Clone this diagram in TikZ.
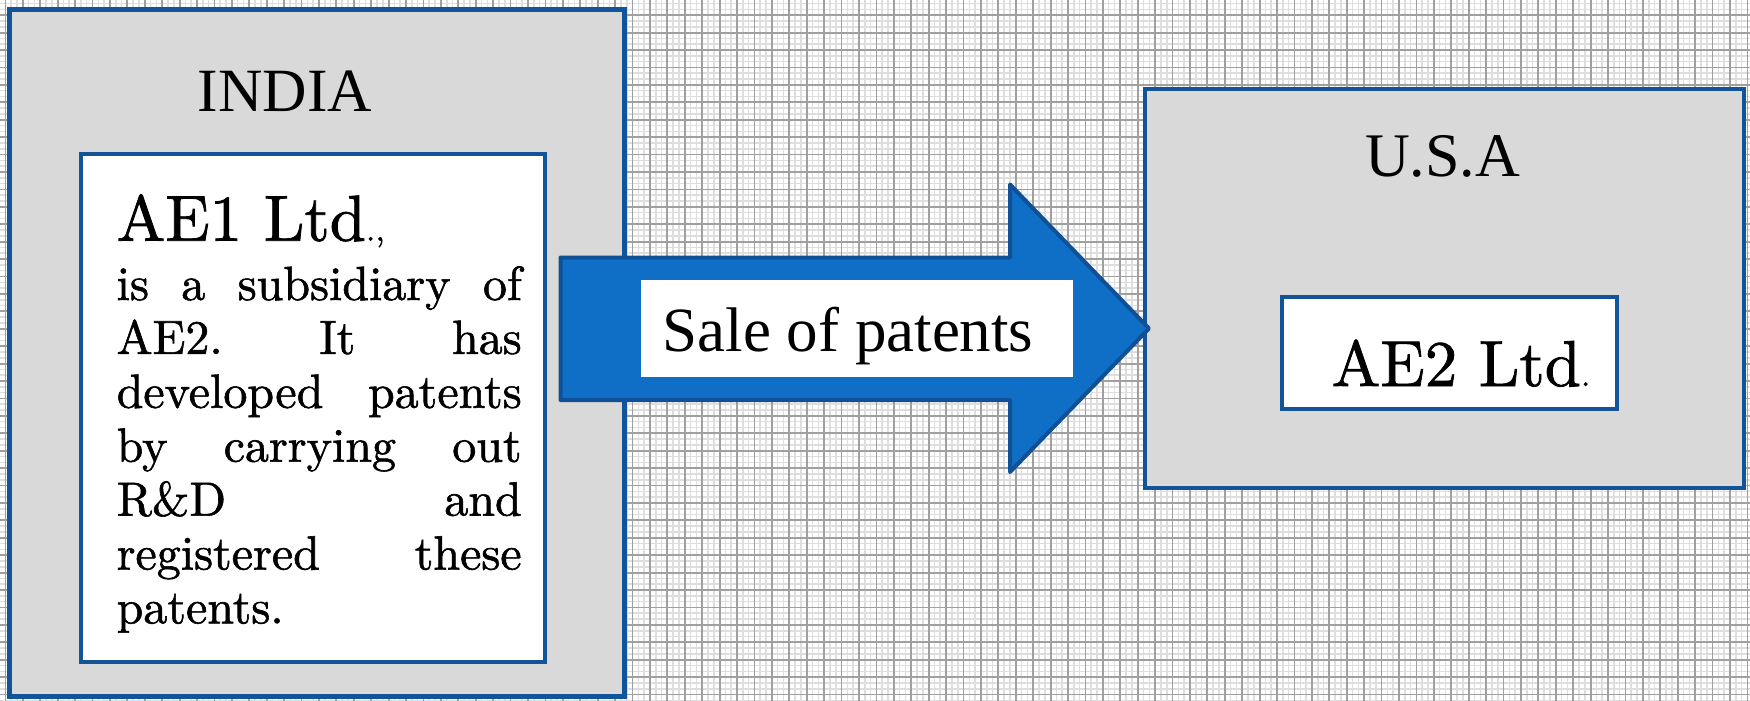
\documentclass[tikz,border=0pt]{standalone}
\usepackage{fontspec}
\newfontfamily\timesf{Liberation Serif}
\newfontfamily\lmf[FakeBold=1.2]{lmroman10-regular.otf}
\definecolor{boxgray}{HTML}{D9D9D9}
\definecolor{borderblue}{RGB}{17,84,153}
\definecolor{arrowblue}{RGB}{15,111,198}
\definecolor{arrowedge}{RGB}{16,80,150}
\definecolor{gridmajor}{HTML}{A0A0A0}
\definecolor{gridminor}{HTML}{DEDEDE}
\tikzset{
  majorline/.style={draw=gridmajor, line width=1.8pt},
  minorline/.style={draw=gridminor, line width=1.6pt},
  countrybox/.style={draw=borderblue, fill=boxgray, line width=4.5pt, inner sep=0, rectangle},
  firmbox/.style={draw=borderblue, fill=white, line width=4pt, inner sep=0, rectangle},
  txt/.style={inner sep=0, outer sep=0},
}
\begin{document}
\begin{tikzpicture}[x=1pt,y=-1pt]
\useasboundingbox (0,0) rectangle (1750,701);
% background grid
\fill[white] (0,0) rectangle (1750,701);
\foreach \i in {-1,...,101} {
  \draw[minorline] ({5.4+17.42*\i+5.807},0) -- ++(0,701);
  \draw[minorline] ({5.4+17.42*\i+11.613},0) -- ++(0,701);
}
\foreach \i in {-1,...,41} {
  \draw[minorline] (0,{15.2+17.42*\i+5.807}) -- ++(1750,0);
  \draw[minorline] (0,{15.2+17.42*\i+11.613}) -- ++(1750,0);
}
\foreach \i in {0,...,101} {
  \draw[majorline] ({5.4+17.42*\i},0) -- ++(0,701);
}
\foreach \i in {-1,...,41} {
  \draw[majorline] (0,{15.2+17.42*\i}) -- ++(1750,0);
}
% India
\node[countrybox, minimum width=615pt, minimum height=687pt] (india) at (317,353) {};
\node[txt, anchor=base] (indialbl) at (285,111.7) {\fontsize{61.5}{70}\selectfont\timesf INDIA};
\node[firmbox, minimum width=464.5pt, minimum height=508.5pt] (ae1) at (312.75,407.75) {};
\node[txt, anchor=base west] (ae1name) at (116.7,240.7) {\lmf\fontsize{65}{70}\selectfont AE1 Ltd{\fontsize{34}{40}\selectfont .,}};
\node[txt, anchor=base west] (ae1body) at (116.7,300) {\lmf\fontsize{48}{53.9}\selectfont\vtop{\baselineskip=53.9pt
  \hbox to 405pt{is\hfill a\hfill subsidiary\hfill of}
  \hbox to 405pt{AE2.\hfill It\hfill has}
  \hbox to 405pt{developed\hfill patents}
  \hbox to 405pt{by\hfill carrying\hfill out}
  \hbox to 405pt{R\&D\hfill and}
  \hbox to 405pt{registered\hfill these}
  \hbox{patents.}}};
% USA
\node[countrybox, minimum width=599pt, minimum height=399pt] (usa) at (1444.5,288.5) {};
\node[txt, anchor=base] (usalbl) at (1442.5,176.7) {\fontsize{62}{70}\selectfont\timesf U.S.A};
\node[firmbox, minimum width=335.5pt, minimum height=112pt] (ae2) at (1449.25,353) {};
\node[txt, anchor=base west] (ae2name) at (1331.7,386) {\lmf\fontsize{65}{70}\selectfont AE2 Ltd{\fontsize{34}{40}\selectfont .}};
% block arrow
\draw[fill=arrowblue, draw=arrowedge, line width=4pt, line join=round]
  (560.5,257.5) -- (1010,257.5) -- (1010,184.5) -- (1149,328.5)
  -- (1010,472) -- (1010,400) -- (560.5,400) -- cycle;
\node[fill=white, inner sep=0, minimum width=431.7pt, minimum height=96.7pt] (salebox) at (856.85,328.35) {};
\node[txt, anchor=base] (salelbl) at (848,351.7) {\fontsize{63}{70}\selectfont\timesf Sale of patents};
\end{tikzpicture}
\end{document}
